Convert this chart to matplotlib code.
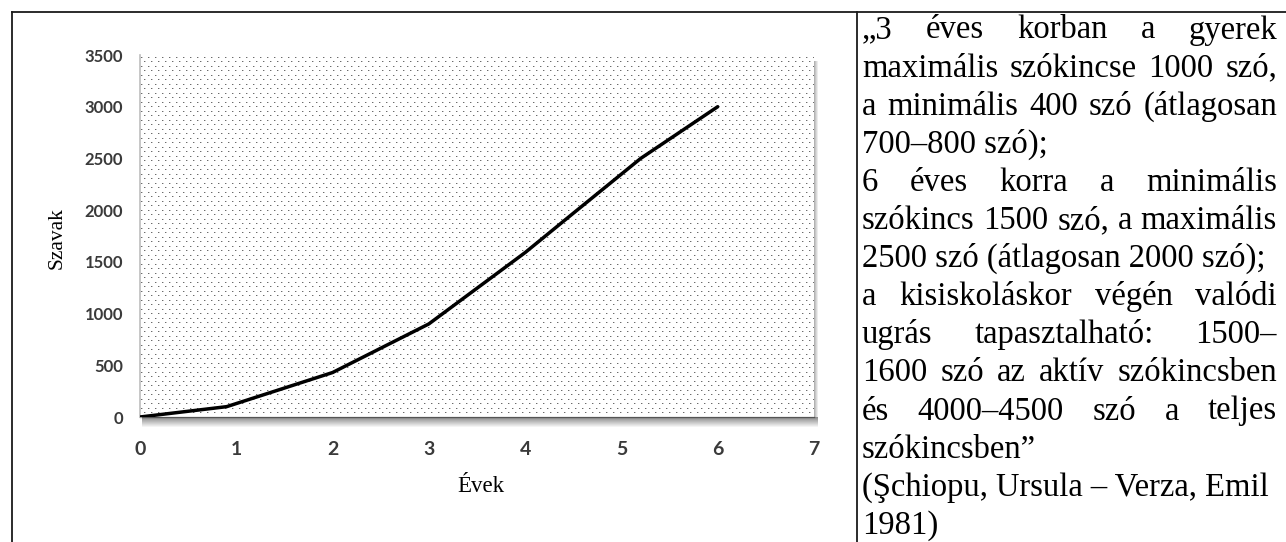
import matplotlib
matplotlib.use('Agg')
import matplotlib.pyplot as plt
import numpy as np
from matplotlib.lines import Line2D
from matplotlib.patches import Rectangle

# data
years = [0, 0.9, 2, 3, 4, 4.5, 5.2, 6]
words = [0, 100, 430, 900, 1590, 1970, 2500, 3000]
x_ticks = [0, 1, 2, 3, 4, 5, 6, 7]
y_ticks = [0, 500, 1000, 1500, 2000, 2500, 3000, 3500]

quote_lines = [
    "\u201e3 éves korban a gyerek",
    "maximális szókincse 1000 szó,",
    "a minimális 400 szó (átlagosan",
    "700\u2013800 szó);",
    "6 éves korra a minimális",
    "szókincs 1500 szó, a maximális",
    "2500 szó (átlagosan 2000 szó);",
    "a kisiskoláskor végén valódi",
    "ugrás tapasztalható: 1500\u2013",
    "1600 szó az aktív szókincsben",
    "és 4000\u20134500 szó a teljes",
    "szókincsben\u201d",
    "(Şchiopu, Ursula \u2013 Verza, Emil",
    "1981)",
]
justified = [True, True, True, False, True, True, False,
             True, True, True, True, False, False, False]

W, H = 1286, 542
fig = plt.figure(figsize=(W / 100, H / 100), dpi=100)


def fx(px):
    return px / W


def fy(py):
    return 1 - py / H


# plot area in pixels
ax_l, ax_r, ax_t, ax_b = 140, 814, 55, 417
ax = fig.add_axes([fx(ax_l), fy(ax_b), (ax_r - ax_l) / W, (ax_b - ax_t) / H])
ax.set_xlim(0, 7)
ax.set_ylim(0, 3500)

# dotted background texture
pw, ph = ax_r - ax_l, ax_b - ax_t
tex = np.ones((ph, pw, 3))
for i, yy in enumerate(np.arange(2, ph, 4.5)):
    off = 1 + (i % 2) * 3.5
    for xx in np.arange(off, pw, 7):
        tex[int(yy), int(xx)] = 0.42
        if int(xx) + 1 < pw:
            tex[int(yy), int(xx) + 1] = 0.78
ax.imshow(tex, extent=[0, 7, 0, 3500], aspect='auto',
          interpolation='nearest', zorder=0)

ax.plot(years, words, color='black', lw=2.5, solid_joinstyle='round',
        solid_capstyle='round', zorder=3)

ax.spines['top'].set_visible(False)
ax.spines['right'].set_visible(False)
ax.spines['left'].set_color('#bdbdbd')
ax.spines['left'].set_linewidth(1.2)
ax.spines['bottom'].set_color('#9a9a9a')
ax.spines['bottom'].set_linewidth(1.0)

ax.set_xticks(x_ticks)
ax.set_yticks(y_ticks)
ax.tick_params(axis='x', length=0, pad=17, labelsize=14, labelcolor='#3a3a3a')
ax.tick_params(axis='y', length=0, pad=12, labelsize=12, labelcolor='#3a3a3a')
for lab in ax.get_xticklabels() + ax.get_yticklabels():
    lab.set_fontfamily('Lato')
    lab.set_fontweight('bold')

# drop shadow under and right of the plot area
for k in range(10):
    a = 0.45 * (1 - k / 10)
    fig.add_artist(Rectangle((fx(ax_l + 2), fy(ax_b + k + 1)), (ax_r - ax_l + 2) / W, 1 / H,
                             transform=fig.transFigure, facecolor='black',
                             edgecolor='none', alpha=a, zorder=1))
for k in range(4):
    a = 0.3 * (1 - k / 4)
    fig.add_artist(Rectangle((fx(ax_r + k), fy(ax_b)), 1 / W, (ax_b - ax_t - 6) / H,
                             transform=fig.transFigure, facecolor='black',
                             edgecolor='none', alpha=a, zorder=1))

fig.text(fx(57), fy(238), 'Szavak', rotation=90, ha='center', va='center',
         family='Liberation Serif', fontsize=15.5, color='black')
fig.text(fx(481), fy(487), 'Évek', ha='center', va='center',
         family='Liberation Serif', fontsize=16.5, color='black')

# table borders
border = dict(color='#1a1a1a', lw=1.3, transform=fig.transFigure)
fig.add_artist(Line2D([fx(12), 1], [fy(11.7), fy(11.7)], **border))
fig.add_artist(Line2D([fx(12), fx(12)], [fy(11.7), 0], **border))
fig.add_artist(Line2D([fx(857), fx(857)], [fy(11.7), 0], **border))

# quote, justified like the source
renderer = fig.canvas.get_renderer()
tx_l, tx_r = 862, 1277
font = dict(family='Liberation Serif', fontsize=23.5, color='black', va='baseline')
for i, line in enumerate(quote_lines):
    yb = fy(38.5 + 38.1 * i)
    if not justified[i]:
        fig.text(fx(tx_l), yb, line, **font)
        continue
    parts = line.split(' ')
    texts = [fig.text(0, yb, w, **font) for w in parts]
    widths = [t.get_window_extent(renderer).width for t in texts]
    gap = (tx_r - tx_l - sum(widths)) / (len(parts) - 1)
    x = tx_l
    for t, w in zip(texts, widths):
        t.set_x(fx(x))
        x += w + gap

fig.savefig('out.png', dpi=100)
